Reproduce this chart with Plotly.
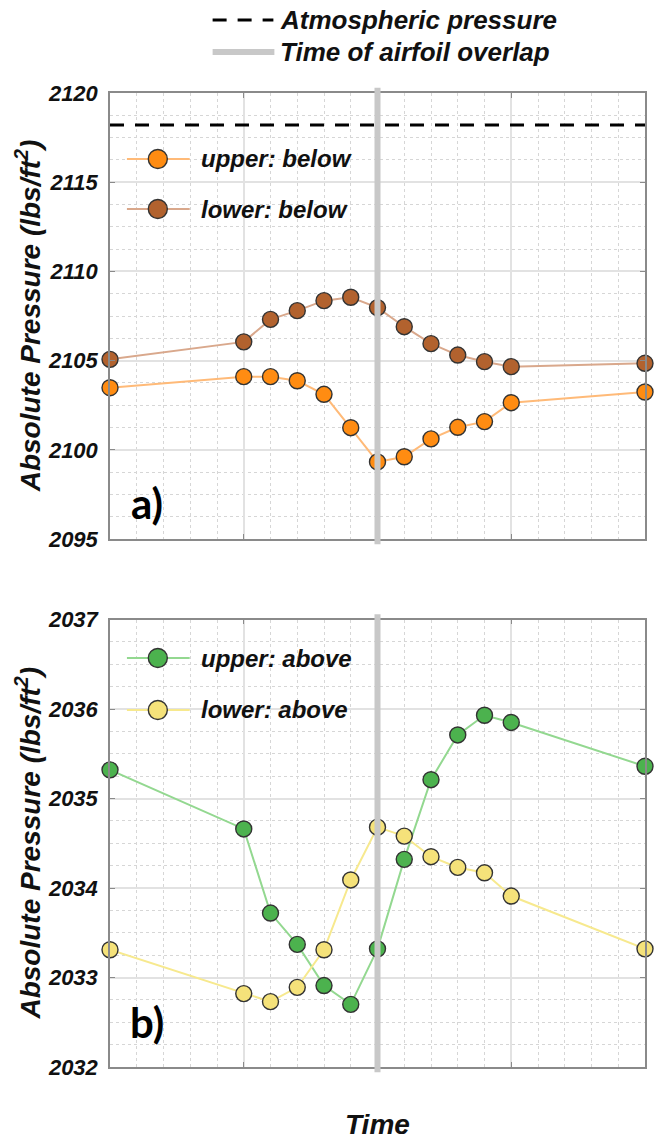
import plotly.graph_objects as go

# ---- data ---------------------------------------------------------------
time = [0, 5, 6, 7, 8, 9, 10, 11, 12, 13, 14, 15, 20]

upper_below = [2103.48, 2104.10, 2104.10, 2103.87, 2103.11, 2101.24, 2099.32,
               2099.61, 2100.61, 2101.26, 2101.58, 2102.64, 2103.24]
lower_below = [2105.07, 2106.05, 2107.31, 2107.80, 2108.36, 2108.55, 2107.97,
               2106.90, 2105.95, 2105.31, 2104.94, 2104.66, 2104.85]

upper_above = [2035.32, 2034.66, 2033.72, 2033.37, 2032.91, 2032.70, 2033.32,
               2034.32, 2035.21, 2035.71, 2035.93, 2035.85, 2035.36]
lower_above = [2033.31, 2032.82, 2032.73, 2032.89, 2033.31, 2034.09, 2034.68,
               2034.58, 2034.35, 2034.23, 2034.17, 2033.91, 2033.32]

atmospheric_pressure = 2118.2
overlap_time = 10

top_range = [2095, 2120]
bottom_range = [2032, 2037]
top_ticks = [2095, 2100, 2105, 2110, 2115, 2120]
bottom_ticks = [2032, 2033, 2034, 2035, 2036, 2037]

# ---- styling ------------------------------------------------------------
W, H = 654, 1142
ML, MR, MT, MB = 110, 7, 93, 75
PW, PH = W - ML - MR, H - MT - MB

FONT = "Liberation Sans"
EDGE = "#333333"
series_style = {
    "upper: below": dict(marker="#FF8C12", line="#FFBA78"),
    "lower: below": dict(marker="#B2622E", line="#D9A88C"),
    "upper: above": dict(marker="#4CB24E", line="#93D890"),
    "lower: above": dict(marker="#F5E27A", line="#F7E98E"),
}
OVERLAP_GRAY = "#C8C8C8"


def px_x(px):
    return (px - ML) / PW


def px_y(py):
    return (H - MB - py) / PH


top_dom = [px_y(539), 1.0]
bot_dom = [0.0, px_y(619.5)]

fig = go.Figure()

# atmospheric reference line across the upper panel
fig.add_trace(go.Scatter(
    x=[time[0], time[-1]], y=[atmospheric_pressure, atmospheric_pressure],
    mode="lines", line=dict(color="black", width=3, dash="14px,11px"),
    xaxis="x", yaxis="y", showlegend=False, hoverinfo="skip"))


def add_series(name, y, xa, ya):
    st = series_style[name]
    fig.add_trace(go.Scatter(
        x=time, y=y, name=name, mode="lines+markers",
        line=dict(color=st["line"], width=2),
        marker=dict(size=16, color=st["marker"], line=dict(color=EDGE, width=1.4)),
        xaxis=xa, yaxis=ya, cliponaxis=False, showlegend=False))


add_series("upper: below", upper_below, "x", "y")
add_series("lower: below", lower_below, "x", "y")
add_series("upper: above", upper_above, "x2", "y2")
add_series("lower: above", lower_above, "x2", "y2")

shapes = []
annotations = []

# time of airfoil overlap, drawn over the markers
for xr, yr in (("x", "y domain"), ("x2", "y2 domain")):
    shapes.append(dict(type="line", xref=xr, yref=yr, x0=overlap_time, x1=overlap_time,
                       y0=-0.012, y1=1.012, layer="above",
                       line=dict(color=OVERLAP_GRAY, width=6)))

bi = dict(family=FONT, weight="bold", style="italic", color="#111111")

# figure-level key
shapes.append(dict(type="line", xref="paper", yref="paper",
                   x0=px_x(213), x1=px_x(274), y0=px_y(20), y1=px_y(20),
                   line=dict(color="black", width=3, dash="14px,11px")))
shapes.append(dict(type="line", xref="paper", yref="paper",
                   x0=px_x(213), x1=px_x(275), y0=px_y(52), y1=px_y(52),
                   line=dict(color=OVERLAP_GRAY, width=6)))
annotations.append(dict(text="Atmospheric pressure", xref="paper", yref="paper",
                        x=px_x(279), y=px_y(20), xanchor="left", yanchor="middle",
                        showarrow=False, font=dict(size=26, **bi)))
annotations.append(dict(text="Time of airfoil overlap", xref="paper", yref="paper",
                        x=px_x(279), y=px_y(52), xanchor="left", yanchor="middle",
                        showarrow=False, font=dict(size=26, **bi)))


def panel_key(name, row_y):
    st = series_style[name]
    shapes.append(dict(type="line", xref="paper", yref="paper",
                       x0=px_x(127), x1=px_x(190), y0=px_y(row_y), y1=px_y(row_y),
                       line=dict(color=st["line"], width=2)))
    shapes.append(dict(type="circle", xref="paper", yref="paper",
                       xsizemode="pixel", ysizemode="pixel",
                       xanchor=px_x(158), yanchor=px_y(row_y),
                       x0=-9.5, x1=9.5, y0=-9.5, y1=9.5,
                       fillcolor=st["marker"], line=dict(color=EDGE, width=1.4)))
    annotations.append(dict(text=name, xref="paper", yref="paper",
                            x=px_x(199), y=px_y(row_y), xanchor="left", yanchor="middle",
                            showarrow=False, font=dict(size=24, **bi)))


panel_key("upper: below", 159)
panel_key("lower: below", 209)
panel_key("upper: above", 658)
panel_key("lower: above", 710)

# panel labels
for lab, py in (("a)", 503), ("b)", 1022)):
    annotations.append(dict(text=lab, xref="paper", yref="paper",
                            x=px_x(147), y=px_y(py), xanchor="center", yanchor="middle",
                            showarrow=False,
                            font=dict(family="Lato", size=42, weight="bold", color="black")))

# y-axis titles
ytitle = "Absolute Pressure (lbs/ft<sup>2</sup>)"
for py in ((93 + 539) / 2, (619.5 + 1067) / 2):
    annotations.append(dict(text=ytitle, xref="paper", yref="paper",
                            x=px_x(28), y=px_y(py), xanchor="center", yanchor="middle",
                            textangle=-90, showarrow=False, font=dict(size=28, **bi)))

annotations.append(dict(text="Time", xref="paper", yref="paper",
                        x=px_x(379), y=px_y(1124), xanchor="center", yanchor="middle",
                        showarrow=False, font=dict(size=28, **bi)))

FRAME = "#8a8a8a"
xcommon = dict(range=[time[0], time[-1]], dtick=5, tick0=0, showticklabels=False,
               showline=True, linecolor=FRAME, linewidth=1.5, mirror="ticks",
               ticks="inside", ticklen=5, tickcolor=FRAME, tickwidth=1.2,
               showgrid=True, gridcolor="#E2E2E2", gridwidth=1.5, zeroline=False,
               minor=dict(dtick=1, showgrid=True, gridcolor="#D6D6D6",
                          griddash="dot", gridwidth=1.2))


def ycommon(rng, ticks, minor):
    return dict(range=rng, tickvals=ticks, ticktext=[str(t) for t in ticks],
                showline=True, linecolor=FRAME, linewidth=1.5, mirror="ticks",
                ticks="inside", ticklen=5, tickcolor=FRAME, tickwidth=1.2,
                ticklabelstandoff=6,
                tickfont=dict(size=22, **bi),
                showgrid=True, gridcolor="#E2E2E2", gridwidth=1.5, zeroline=False,
                minor=dict(dtick=minor, tick0=rng[0], showgrid=True, gridcolor="#D6D6D6",
                           griddash="dot", gridwidth=1.2))


fig.update_layout(
    width=W, height=H,
    margin=dict(l=ML, r=MR, t=MT, b=MB, pad=0),
    paper_bgcolor="white", plot_bgcolor="white",
    showlegend=False,
    xaxis=dict(domain=[0, 1], anchor="y", **xcommon),
    yaxis=dict(domain=top_dom, anchor="x", **ycommon(top_range, top_ticks, 1.25)),
    xaxis2=dict(domain=[0, 1], anchor="y2", **xcommon),
    yaxis2=dict(domain=bot_dom, anchor="x2", **ycommon(bottom_range, bottom_ticks, 0.25)),
    shapes=shapes,
    annotations=annotations,
)

fig.write_html("out.html")
